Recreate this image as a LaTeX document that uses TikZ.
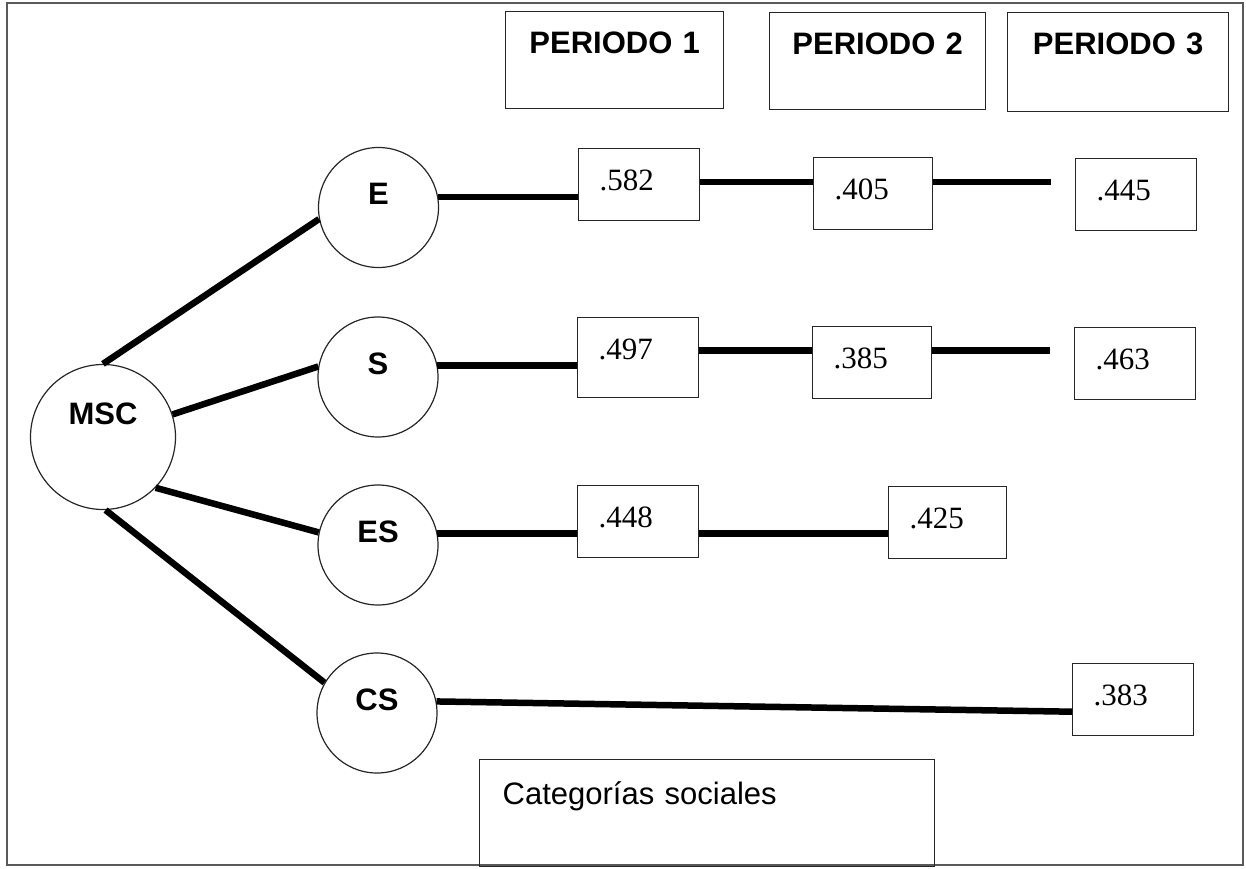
\documentclass[tikz,border=0pt]{standalone}
\usepackage{fontspec}
\setmainfont{Liberation Sans}
\newfontfamily\numfont{Liberation Serif}
\begin{document}
\begin{tikzpicture}[x=1bp,y=-1bp,
  txt/.style={font=\fontsize{31bp}{37bp}\selectfont},
  frame/.style={draw=black!85, line width=1.4bp, anchor=north west, inner ysep=0pt},
  period/.style={frame, inner xsep=0pt, text width=218bp, align=center,
    text height=42bp, text depth=55bp, font=\bfseries\fontsize{31bp}{37bp}\selectfont},
  numbox/.style={frame, inner xsep=21bp, text width=79bp, align=left,
    text height=42bp, text depth=30bp, font=\numfont\fontsize{31bp}{37bp}\selectfont},
  circ/.style={circle, draw=black!85, line width=1.2bp, minimum size=120bp, inner sep=0pt,
    text height=10bp, text depth=16bp, font=\bfseries\fontsize{31bp}{37bp}\selectfont},
  conn/.style={line width=6.5bp, black}
]
\useasboundingbox (0,0) rectangle (1246,869);
% outer frame
\draw[black!65, line width=1.2bp] (7,3) rectangle (1243,865);

% period headers
\node[period] (p1) at (505,11) {PERIODO 1};
\node[period, text width=216bp] (p2) at (769,12) {PERIODO 2};
\node[period, text width=221bp, text depth=57bp] (p3) at (1007,12) {PERIODO 3};

% latent variables
\node[circ, minimum size=145bp, text height=2bp, text depth=28bp] (MSC) at (103,437) {MSC};
\node[circ] (E)  at (378.5,207.5) {E};
\node[circ] (S)  at (378,377) {S};
\node[circ] (ES) at (378,545) {ES};
\node[circ] (CS) at (377,713) {CS};

% coefficient boxes
\node[numbox] (b582) at (578,148) {.582};
\node[numbox, text width=77bp] (b405) at (813,157) {.405};
\node[numbox] (b445) at (1075,158) {.445};
\node[numbox, text depth=38bp] (b497) at (577,317) {.497};
\node[numbox, text width=77bp] (b385) at (812,326) {.385};
\node[numbox] (b463) at (1074,327) {.463};
\node[numbox] (b448) at (577,485) {.448};
\node[numbox, text width=76bp] (b425) at (888,486) {.425};
\node[numbox] (b383) at (1072,663) {.383};

% legend box
\node[frame, inner xsep=23bp, text width=409bp, align=left, text height=45bp, text depth=62bp,
  font=\fontsize{31bp}{37bp}\selectfont] (cat) at (479,759) {Categorías sociales};

% loadings from MSC
\draw[conn] (MSC.90)  -- (E.191);
\draw[conn] (MSC.18)  -- (S.170);
\draw[conn] (MSC.-44) -- (ES.168);
\draw[conn] (MSC.-88) -- (CS.150);

% free line ends
\coordinate (eEnd) at (1051,182);
\coordinate (sEnd) at (1050,350.5);

% row E
\draw[conn] (E.10) -- (E.10 -| b582.west);
\draw[conn] (b582.east |- eEnd) -- (b405.west |- eEnd);
\draw[conn] (b405.east |- eEnd) -- (eEnd);
% row S
\draw[conn] (S.11) -- (S.11 -| b497.west);
\draw[conn] (b497.east |- sEnd) -- (b385.west |- sEnd);
\draw[conn] (b385.east |- sEnd) -- (sEnd);
% row ES
\draw[conn] (ES.11) -- (ES.11 -| b448.west);
\draw[conn] (b448.east |- ES.11) -- (b425.west |- ES.11);
% row CS
\draw[conn] (CS.11) -- ([yshift=-12bp]b383.west);
\end{tikzpicture}
\end{document}
